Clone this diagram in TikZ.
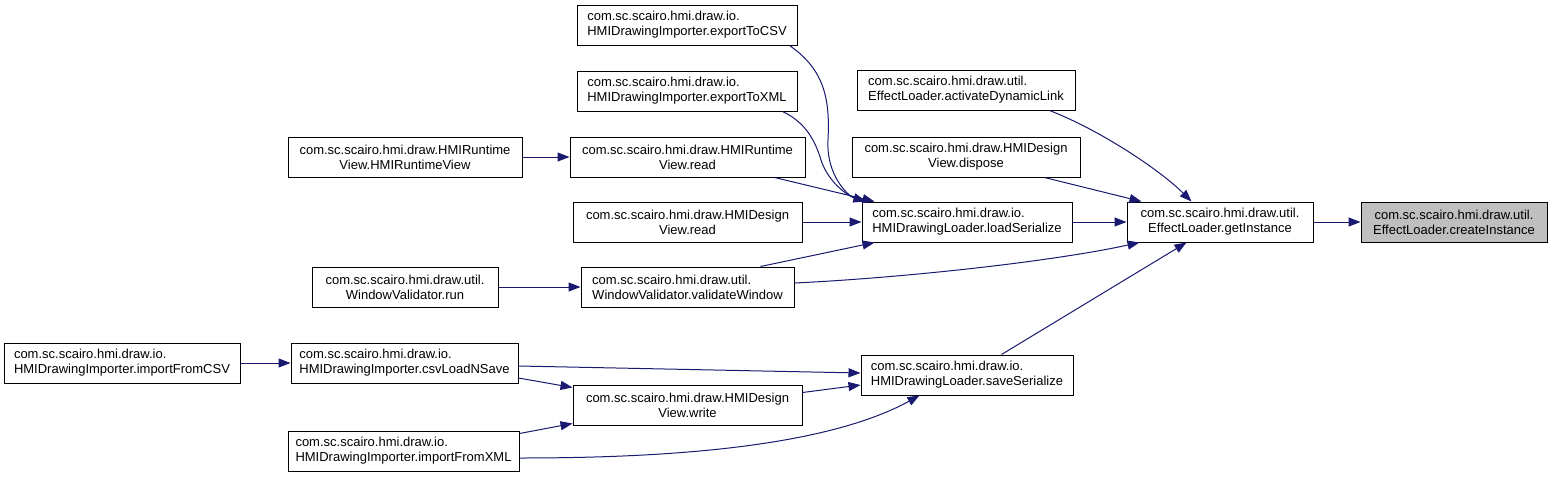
\documentclass[tikz,border=0pt]{standalone}
\usepackage{fontspec}
\setmainfont{Liberation Sans}
\usetikzlibrary{arrows.meta,calc}
\definecolor{edgecol}{HTML}{191970}
\definecolor{focusfill}{HTML}{BFBFBF}
\begin{document}
\begin{tikzpicture}[x=1pt,y=-1pt,
  box/.style={draw=black, line width=1pt, fill=white, minimum height=40pt, inner sep=0pt, font=\fontsize{13}{15}\selectfont},
  lbox/.style={box, align=left},
  cbox/.style={box, align=center},
  edge/.style={draw=edgecol, line width=1pt, -{Triangle[length=12pt,width=9pt]}}]
\fill[white] (0,0) rectangle (1552,477);
\useasboundingbox (0,0) rectangle (1552,477);

\node[lbox, minimum width=220pt] (exportCSV) at (687,25) {com.sc.scairo.hmi.draw.io.\\HMIDrawingImporter.exportToCSV};
\node[lbox, minimum width=220pt] (exportXML) at (687,91) {com.sc.scairo.hmi.draw.io.\\HMIDrawingImporter.exportToXML};
\node[lbox, minimum width=218pt] (activate) at (966,90) {com.sc.scairo.hmi.draw.util.\\EffectLoader.activateDynamicLink};
\node[cbox, minimum width=234pt] (rtView) at (405,157) {com.sc.scairo.hmi.draw.HMIRuntime\\View.HMIRuntimeView};
\node[cbox, minimum width=235pt] (rtRead) at (687.5,157) {com.sc.scairo.hmi.draw.HMIRuntime\\View.read};
\node[cbox, minimum width=228pt] (dispose) at (966,157) {com.sc.scairo.hmi.draw.HMIDesign\\View.dispose};
\node[cbox, minimum width=229pt] (dvRead) at (687.5,222) {com.sc.scairo.hmi.draw.HMIDesign\\View.read};
\node[lbox, minimum width=210pt] (loadSer) at (967,222) {com.sc.scairo.hmi.draw.io.\\HMIDrawingLoader.loadSerialize};
\node[cbox, minimum width=186pt] (getInst) at (1220,222) {com.sc.scairo.hmi.draw.util.\\EffectLoader.getInstance};
\node[cbox, minimum width=186pt, fill=focusfill] (createInst) at (1454,222) {com.sc.scairo.hmi.draw.util.\\EffectLoader.createInstance};
\node[cbox, minimum width=186pt] (wvRun) at (405,287) {com.sc.scairo.hmi.draw.util.\\WindowValidator.run};
\node[lbox, minimum width=213pt] (validate) at (687.5,287) {com.sc.scairo.hmi.draw.util.\\WindowValidator.validateWindow};
\node[lbox, minimum width=236pt] (importCSV) at (122,363) {com.sc.scairo.hmi.draw.io.\\HMIDrawingImporter.importFromCSV};
\node[lbox, minimum width=227pt] (csvSave) at (404.5,363) {com.sc.scairo.hmi.draw.io.\\HMIDrawingImporter.csvLoadNSave};
\node[lbox, minimum width=212pt] (saveSer) at (967,375) {com.sc.scairo.hmi.draw.io.\\HMIDrawingLoader.saveSerialize};
\node[cbox, minimum width=229pt] (dvWrite) at (687.5,405) {com.sc.scairo.hmi.draw.HMIDesign\\View.write};
\node[lbox, minimum width=231pt] (importXML) at (403.5,451) {com.sc.scairo.hmi.draw.io.\\HMIDrawingImporter.importFromXML};

% edges
\draw[edge] (getInst.east) -- (createInst.west);
\draw[edge] (loadSer.east) -- (getInst.west);
\draw[edge] ($(activate.south west)+(193,0)$) .. controls (1100,130) and (1160,170) .. ($(getInst.north west)+(65,0)$);
\draw[edge] ($(dispose.south west)+(193,0)$) -- ($(getInst.north west)+(15,0)$);
\draw[edge] ($(validate.east)+(0,-4)$) .. controls (900,278) and (1050,262) .. ($(getInst.south west)+(13,0)$);
\draw[edge] ($(saveSer.north west)+(141,0)$) -- ($(getInst.south west)+(60,0)$);

\draw[edge] ($(exportCSV.south west)+(213,0)$) .. controls (825,70) and (830,100) .. (828,140) .. controls (826,175) and (848,196) .. ($(loadSer.north west)+(4,0)$);
\draw[edge] ($(exportXML.south west)+(206,0)$) .. controls (805,122) and (815,140) .. (821,160) .. controls (828,182) and (848,196) .. ($(loadSer.north west)+(4,0)$);
\draw[edge] ($(rtRead.south west)+(205,0)$) -- ($(loadSer.north west)+(13,0)$);
\draw[edge] (dvRead.east) -- (loadSer.west);
\draw[edge] ($(validate.north west)+(180,0)$) -- ($(loadSer.south west)+(13,0)$);

\draw[edge] (rtView.east) -- (rtRead.west);
\draw[edge] (wvRun.east) -- (validate.west);
\draw[edge] (importCSV.east) -- (csvSave.west);

\draw[edge] ($(csvSave.east)+(0,3)$) -- ($(saveSer.west)+(0,-2)$);
\draw[edge] ($(csvSave.east)+(0,15)$) -- ($(dvWrite.north west)+(0,3)$);
\draw[edge] ($(importXML.north east)+(0,3)$) -- ($(dvWrite.south west)+(0,-2)$);
\draw[edge] ($(dvWrite.north east)+(0,8)$) -- ($(saveSer.west)+(0,10)$);
\draw[edge] ($(importXML.east)+(0,7)$) .. controls (650,458) and (820,450) .. ($(saveSer.south west)+(59,0)$);
\end{tikzpicture}
\end{document}
